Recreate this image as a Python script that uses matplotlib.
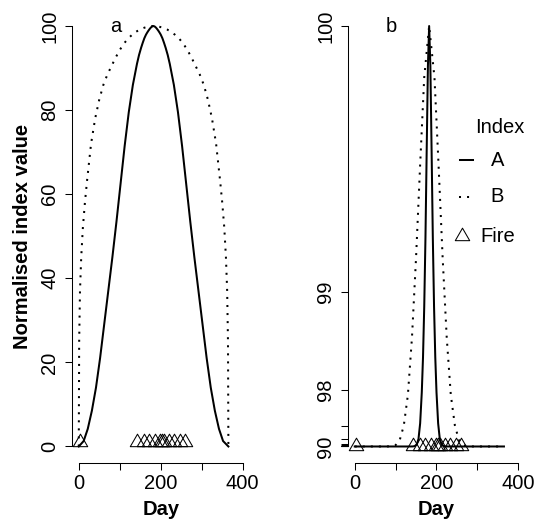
import numpy as np
import matplotlib
matplotlib.use("Agg")
import matplotlib.pyplot as plt
from matplotlib.path import Path
from matplotlib.lines import Line2D

plt.rcParams['font.family'] = ['Liberation Sans', 'DejaVu Sans']
plt.rcParams['font.size'] = 14.5

# index A: sharp seasonal peak
day_a = [0, 12, 22, 32, 42, 52, 62, 72, 82, 92, 102, 112, 122, 132, 142, 147,
         152, 156, 160, 164, 167, 170, 173, 176, 179, 182, 185, 188, 191, 194,
         197, 200, 204, 208, 212, 217, 222, 232, 242, 252, 262, 272, 282, 292,
         302, 312, 322, 332, 342, 352, 365]
index_a = [0, 1.3, 4.2, 8.5, 14, 21, 29, 37, 45, 53.5, 62.5, 71.5, 79.5, 86, 91,
           93.1, 94.8, 96.0, 97.1, 97.95, 98.45, 98.9, 99.3, 99.65, 99.9, 100,
           99.9, 99.65, 99.3, 98.9, 98.45, 97.95, 97.1, 96.0, 94.8, 93.1, 91, 86,
           79.5, 71.5, 62.5, 53.5, 45, 37, 29, 21, 14, 8.5, 4.2, 1.3, 0]

# index B: broad flat-topped curve
day_b = [0, 1, 3, 6, 10, 15, 20, 30, 40, 50, 60, 70, 80, 90, 100, 110, 120, 130,
         140, 150, 160, 170, 182, 195, 205, 215, 225, 235, 245, 255, 265, 275,
         285, 295, 305, 315, 325, 335, 345, 350, 355, 359, 362, 364, 365]
index_b = [0, 25, 37, 45, 52, 58, 63, 72, 78, 82.5, 86, 88.5, 90.5, 92.5, 94.3,
           95.8, 97.0, 97.9, 98.65, 99.2, 99.6, 99.87, 100, 99.87, 99.6, 99.2,
           98.65, 97.9, 97.0, 95.8, 94.3, 92.5, 90.5, 88.5, 86, 82.5, 78, 72, 63,
           58, 52, 45, 37, 25, 0]

# fire events
fire_days = [4, 143, 159, 172, 186, 198, 203, 209, 220, 233, 247, 260]
fire_level = 1

x_ticks = [0, 100, 200, 300, 400]
x_labels = ["0", "", "200", "", "400"]
a_ticks = [0, 20, 40, 60, 80, 100]
b_ticks = [90, 91, 92, 93, 94, 95, 96, 97, 98, 99, 100]
b_labels = ["90", "", "", "", "", "", "", "", "98", "99", "100"]

# R style open triangle, centred on its centroid
tri = Path([(0, 1.555), (1.347, -0.778), (-1.347, -0.778), (0, 1.555)], closed=True)

W, H = 536, 520
fig = plt.figure(figsize=(W / 100, H / 100), dpi=100)
ax_a = fig.add_axes([72.2 / W, (H - 463.3) / H, 177.1 / W, 454.1 / H])
ax_b = fig.add_axes([348.2 / W, (H - 463.3) / H, 176.6 / W, 454.1 / H])


def stretch(v):
    # exponential stretch of the top of the index range
    return np.exp(np.asarray(v, dtype=float) - 100)


def r_axes(ax, ylo, yhi):
    for s in ['top', 'right']:
        ax.spines[s].set_visible(False)
    ax.spines['left'].set_bounds(ylo, yhi)
    ax.spines['bottom'].set_bounds(0, 400)
    for s in ['left', 'bottom']:
        ax.spines[s].set_linewidth(0.75)
    ax.set_xlim(-16, 416)
    ax.set_xticks(x_ticks, x_labels)
    ax.tick_params(axis='both', length=5.2, width=0.75, direction='out')
    ax.tick_params(axis='x', pad=2.6)
    ax.tick_params(axis='y', pad=4.3, labelrotation=90)
    for lbl in ax.get_yticklabels():
        lbl.set_va('center')
    ax.set_xlabel("Day", fontweight='bold')
    ax.xaxis.set_label_coords(0.5, -0.081)


# panel a: raw normalised values
ax_a.plot(day_a, index_a, color='black', lw=1.45)
ax_a.plot(day_b, index_b, color='black', lw=1.45, linestyle=(0, (1, 3)))
ax_a.plot(fire_days, [fire_level] * len(fire_days), linestyle='none', marker=tri,
          ms=12, mfc='none', mec='black', mew=0.75)
ax_a.set_ylim(-4, 104)
ax_a.set_yticks(a_ticks)
r_axes(ax_a, 0, 100)
ax_a.set_ylabel("Normalised index value", fontweight='bold')
ax_a.yaxis.set_label_coords(-0.225, 0.5)
ax_a.text(90, 100, "a", ha='center', va='center')

# panel b: same series on the stretched scale
ax_b.plot(day_a, stretch(index_a), color='black', lw=1.45)
ax_b.plot(day_b, stretch(index_b), color='black', lw=1.45, linestyle=(0, (1, 3)))
ax_b.plot(fire_days, stretch([fire_level] * len(fire_days)), linestyle='none',
          marker=tri, ms=12, mfc='none', mec='black', mew=0.75)
ax_b.set_ylim(-0.04, 1.04)
ax_b.set_yticks(stretch(b_ticks), b_labels)
r_axes(ax_b, stretch(90), stretch(100))
ax_b.text(90, 1.0, "b", ha='center', va='center')

# legend
tr = ax_b.transAxes
ax_b.text(0.8596, 0.7384, "Index", ha='center', va='center', transform=tr)
ax_b.add_line(Line2D([0.633, 0.707], [0.6679, 0.6679], color='black', lw=1.45,
                     transform=tr))
ax_b.text(0.8466, 0.6679, "A", ha='center', va='center', transform=tr)
ax_b.add_line(Line2D([0.625, 0.707], [0.5865, 0.5865], color='black', lw=1.45,
                     linestyle=(0, (1, 3)), transform=tr))
ax_b.text(0.8426, 0.5865, "B", ha='center', va='center', transform=tr)
ax_b.add_line(Line2D([0.6426], [0.500], linestyle='none', marker=tri, ms=12,
                     mfc='none', mec='black', mew=0.75, transform=tr))
ax_b.text(0.8454, 0.4984, "Fire", ha='center', va='center', transform=tr)

fig.savefig("out.png", dpi=100)
